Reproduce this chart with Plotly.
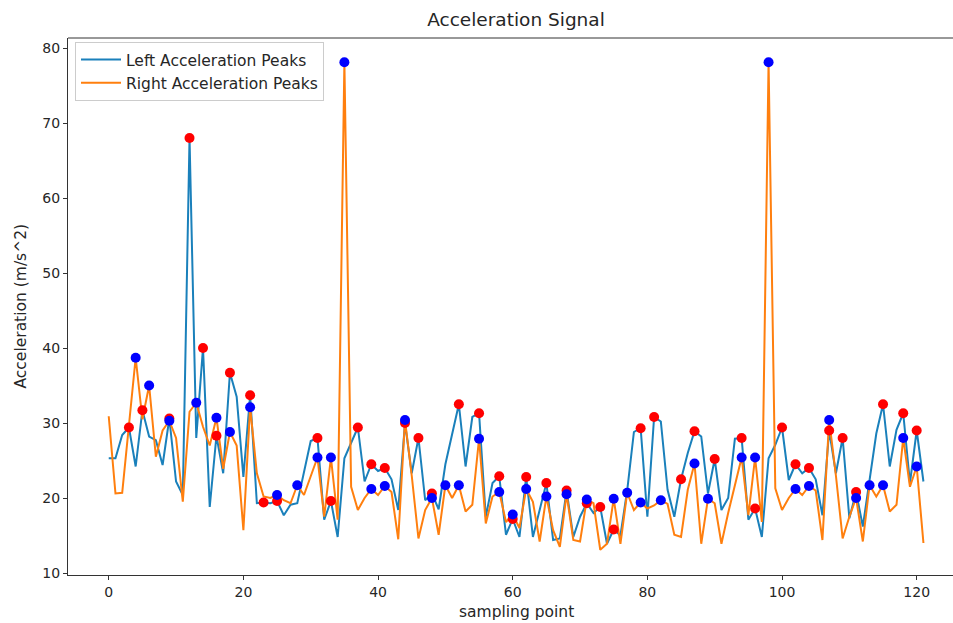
import plotly.graph_objects as go

# ---- data ----
sample_index = list(range(122))

left_accel = [
    25.3, 25.3, 28.4, 29.4, 24.2, 31.7, 28.2, 27.7, 24.4, 30.6,
    22.2, 20.4, 68.0, 28.0, 40.0, 18.8, 28.3, 23.3, 36.7, 33.5,
    22.8, 33.7, 19.3, 19.4, 19.3, 19.6, 17.7, 19.1, 19.3, 23.7,
    27.6, 28.0, 17.1, 19.6, 14.8, 25.3, 27.3, 29.4, 22.2, 24.5,
    23.6, 24.0, 22.5, 18.4, 30.0, 23.3, 28.0, 19.7, 20.6, 18.5,
    24.5, 28.5, 32.5, 24.2, 30.8, 31.3, 17.5, 22.0, 22.9, 15.1,
    17.2, 14.8, 22.8, 14.8, 18.4, 22.0, 14.4, 14.6, 21.0, 14.8,
    17.5, 19.3, 18.0, 18.8, 13.9, 15.8, 15.0, 21.0, 28.8, 29.3,
    17.5, 30.8, 30.2, 21.1, 17.5, 22.5, 26.0, 28.9, 28.2, 20.6,
    25.2, 18.4, 20.0, 27.9, 28.0, 17.1, 18.6, 14.8, 25.3, 27.1,
    29.4, 22.4, 24.5, 23.3, 24.0, 22.5, 17.7, 29.0, 23.3, 28.0,
    17.3, 20.8, 16.2, 22.5, 28.6, 32.5, 24.2, 29.1, 31.3, 22.0,
    29.0, 22.2,
]

right_accel = [
    30.9, 20.6, 20.7, 29.4, 38.7, 30.5, 35.0, 25.5, 29.0, 30.3,
    28.0, 19.5, 31.5, 32.7, 29.5, 27.0, 30.7, 23.9, 28.8, 27.0,
    15.7, 32.1, 23.3, 20.2, 20.0, 20.4, 19.7, 19.3, 21.7, 20.4,
    22.8, 25.4, 17.5, 25.4, 17.1, 78.1, 21.5, 18.4, 20.0, 21.2,
    20.4, 21.6, 20.8, 14.5, 30.4, 23.0, 14.6, 18.4, 20.0, 15.1,
    21.7, 20.0, 21.7, 18.2, 19.1, 27.9, 16.6, 20.2, 20.8, 16.8,
    17.8, 16.0, 21.2, 19.5, 14.2, 20.2, 15.7, 13.5, 20.5, 14.4,
    14.2, 19.8, 19.3, 13.1, 13.9, 19.9, 13.9, 20.7, 18.4, 19.4,
    18.6, 19.0, 19.7, 19.2, 15.1, 14.8, 21.1, 24.6, 13.9, 19.9,
    19.3, 13.9, 18.0, 21.5, 25.4, 17.7, 25.4, 16.8, 78.1, 21.3,
    18.4, 20.0, 21.2, 20.4, 21.6, 21.0, 14.4, 30.4, 23.0, 14.6,
    17.5, 20.0, 14.2, 21.7, 20.2, 21.7, 18.2, 19.1, 28.0, 21.5,
    24.2, 14.0,
]

left_peak_idx = [3, 5, 9, 12, 14, 16, 18, 21, 23, 25, 31, 33, 37, 39, 41, 44,
                 46, 48, 52, 55, 58, 60, 62, 65, 68, 71, 73, 75, 79, 81, 85,
                 87, 90, 94, 96, 100, 102, 104, 107, 109, 111, 115, 118, 120]

right_peak_idx = [4, 6, 9, 13, 16, 18, 21, 25, 28, 31, 33, 35, 39, 41, 44, 48,
                  50, 52, 55, 58, 60, 62, 65, 68, 71, 75, 77, 79, 82, 87, 89,
                  94, 96, 98, 102, 104, 107, 111, 113, 115, 118, 120]

x_ticks = [0, 20, 40, 60, 80, 100, 120]
y_ticks = [10, 20, 30, 40, 50, 60, 70, 80]

FONT = "DejaVu Sans"
W, H = 953, 623
ML, MR, MT, MB = 68, 0, 38, 48
PW, PH = W - ML - MR, H - MT - MB

fig = go.Figure()
fig.add_trace(go.Scatter(
    x=sample_index, y=left_accel, mode="lines", name="Left Acceleration Peaks",
    line=dict(color="#1a80bb", width=2)))
fig.add_trace(go.Scatter(
    x=sample_index, y=right_accel, mode="lines", name="Right Acceleration Peaks",
    line=dict(color="#ff7f0e", width=2)))
fig.add_trace(go.Scatter(
    x=left_peak_idx, y=[left_accel[i] for i in left_peak_idx], mode="markers",
    marker=dict(color="#ff0000", size=10), showlegend=False))
fig.add_trace(go.Scatter(
    x=right_peak_idx, y=[right_accel[i] for i in right_peak_idx], mode="markers",
    marker=dict(color="#0000ff", size=10), showlegend=False))

fig.update_layout(
    width=W, height=H,
    margin=dict(l=ML, r=MR, t=MT, b=MB, autoexpand=False),
    paper_bgcolor="white", plot_bgcolor="white",
    font=dict(family=FONT, size=14, color="#262626"),
    showlegend=True,
    legend=dict(x=(75 - ML) / PW, y=1 - 4 / PH, xanchor="left", yanchor="top",
                bgcolor="rgba(255,255,255,0.85)", bordercolor="#cccccc",
                borderwidth=1, font=dict(family=FONT, size=15.5, color="#262626"),
                itemwidth=40, tracegroupgap=0),
    title=dict(text="Acceleration Signal", x=516 / W, xref="container",
               xanchor="center", y=1 - 20 / H, yref="container", yanchor="middle",
               font=dict(family=FONT, size=18.5, color="#262626")),
    xaxis=dict(range=[-6.05, -6.05 + PW / 6.733], tickvals=x_ticks,
               automargin=False,
               showgrid=False, zeroline=False, showline=True, linecolor="#333333",
               linewidth=1, ticks="outside", ticklen=4, tickcolor="#333333",
               tickfont=dict(size=14)),
    yaxis=dict(range=[9.733, 81.333], tickvals=y_ticks, showgrid=False,
               automargin=False,
               zeroline=False, showline=True, linecolor="#333333", linewidth=1,
               ticks="outside", ticklen=4, tickcolor="#333333",
               tickfont=dict(size=14)),
    shapes=[dict(type="line", xref="paper", yref="paper", x0=0, x1=1.05,
                 y0=1, y1=1, line=dict(color="#333333", width=1))],
    annotations=[
        dict(text="sampling point", xref="paper", yref="paper",
             x=(516 - ML) / PW, y=-(612 - (H - MB)) / PH,
             xanchor="center", yanchor="middle", showarrow=False,
             font=dict(family=FONT, size=15.5, color="#262626")),
        dict(text="Acceleration (m/s^2)", xref="paper", yref="paper",
             x=-(ML - 20) / PW, y=0.5, textangle=-90,
             xanchor="center", yanchor="middle", showarrow=False,
             font=dict(family=FONT, size=15.5, color="#262626")),
    ],
)

fig.write_html("out.html", config={"displayModeBar": False},
               post_script="document.body.style.margin='0';document.body.style.overflow='hidden';")
